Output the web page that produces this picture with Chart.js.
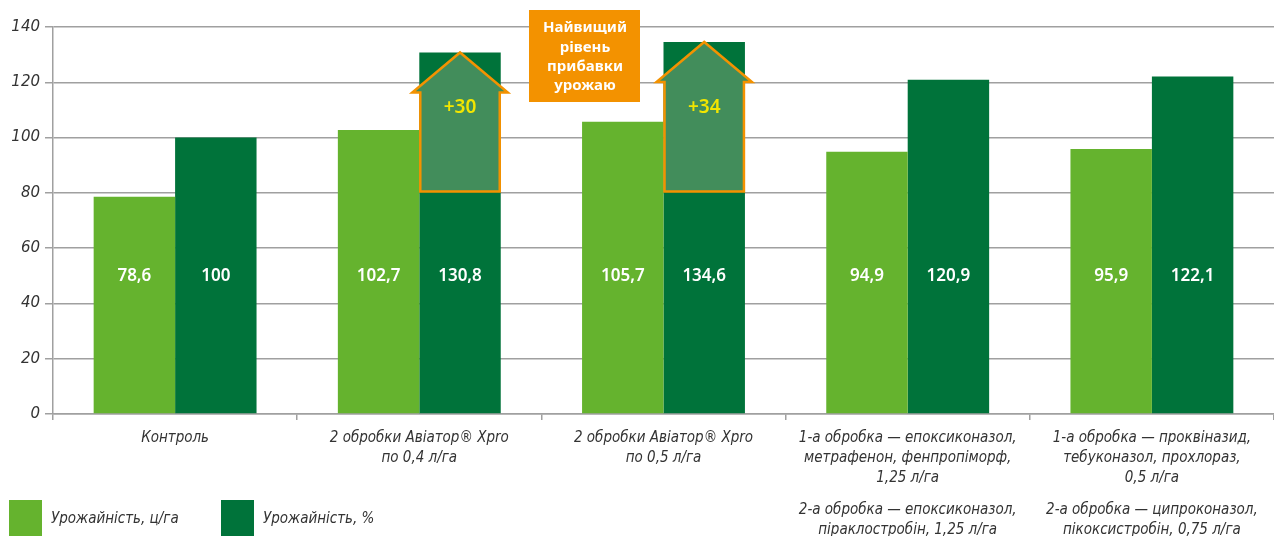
<!DOCTYPE html>
<html>
<head>
<meta charset="utf-8">
<script src="https://cdn.jsdelivr.net/npm/chart.js"></script>
<style>
  html, body { margin: 0; padding: 0; background: #fff; }
  #wrap { position: relative; width: 1274px; height: 536px; }
</style>
</head>
<body>
<div id="wrap"><canvas id="chart" width="1274" height="536"></canvas></div>
<script>
// data
const categories = [
  'Контроль',
  ['2 обробки Авіатор® Xpro', 'по 0,4 л/га'],
  ['2 обробки Авіатор® Xpro', 'по 0,5 л/га'],
  ['1-а обробка — епоксиконазол,', 'метрафенон, фенпропіморф,', '1,25 л/га'],
  ['1-а обробка — проквіназид,', 'тебуконазол, прохлораз,', '0,5 л/га']
];
const secondTreatment = [
  '', '', '',
  ['2-а обробка — епоксиконазол,', 'піраклостробін, 1,25 л/га'],
  ['2-а обробка — ципроконазол,', 'пікоксистробін, 0,75 л/га']
];
const seriesNames = ['Урожайність, ц/га', 'Урожайність, %'];
const yieldCwt = [78.6, 102.7, 105.7, 94.9, 95.9];
const yieldPct = [100, 130.8, 134.6, 120.9, 122.1];
const gainPct = [null, 30, 34, null, null];
const calloutLines = ['Найвищий', 'рівень', 'прибавки', 'урожаю'];

const LIGHT = '#65b32e';
const DARK = '#00733a';
const ORANGE = '#f39200';
const GRID = '#a0a0a0';
const TEXT = '#333333';
const labelFont = '"DejaVu Sans Condensed", "DejaVu Sans", sans-serif';
const boldFont = '"Noto Sans", "DejaVu Sans", sans-serif';

function fmt(v) {
  return String(v).replace('.', ',');
}

// white numbers in the middle of the bars
const valueLabels = {
  id: 'valueLabels',
  afterDatasetsDraw(chart) {
    const ctx = chart.ctx;
    const y = chart.scales.y.getPixelForValue(50);
    ctx.save();
    ctx.fillStyle = '#ffffff';
    ctx.font = '600 17px ' + boldFont;
    ctx.textAlign = 'center';
    ctx.textBaseline = 'middle';
    chart.data.datasets.forEach((ds, i) => {
      chart.getDatasetMeta(i).data.forEach((bar, j) => {
        ctx.fillText(fmt(ds.data[j]), bar.x, y);
      });
    });
    ctx.restore();
  }
};

// arrows on top of the Aviator bars
const gainArrows = {
  id: 'gainArrows',
  afterDatasetsDraw(chart) {
    const ctx = chart.ctx;
    const yScale = chart.scales.y;
    const meta = chart.getDatasetMeta(1);
    ctx.save();
    gainPct.forEach((g, i) => {
      if (g === null) return;
      const bar = meta.data[i];
      const l = bar.x - bar.width / 2 + 1;
      const r = bar.x + bar.width / 2 - 1;
      const tip = bar.y;
      const sh = tip + 40;
      const bottom = yScale.getPixelForValue(80.5);
      ctx.beginPath();
      ctx.moveTo(l, bottom);
      ctx.lineTo(l, sh);
      ctx.lineTo(l - 8, sh);
      ctx.lineTo(bar.x, tip);
      ctx.lineTo(r + 8, sh);
      ctx.lineTo(r, sh);
      ctx.lineTo(r, bottom);
      ctx.closePath();
      ctx.fillStyle = '#428d5b';
      ctx.fill();
      ctx.lineWidth = 2.5;
      ctx.lineJoin = 'miter';
      ctx.strokeStyle = ORANGE;
      ctx.stroke();

      ctx.fillStyle = '#f2e600';
      ctx.font = '600 19px ' + boldFont;
      ctx.textAlign = 'center';
      ctx.textBaseline = 'middle';
      ctx.fillText('+' + g, bar.x, yScale.getPixelForValue(111));
    });
    ctx.restore();
  }
};

// orange note box + legend at the bottom
const extras = {
  id: 'extras',
  afterDraw(chart) {
    const ctx = chart.ctx;
    ctx.save();
    ctx.fillStyle = ORANGE;
    ctx.fillRect(529, 10, 111, 92);
    ctx.fillStyle = '#ffffff';
    ctx.font = 'bold 15px ' + boldFont;
    ctx.textAlign = 'center';
    ctx.textBaseline = 'middle';
    calloutLines.forEach((t, i) => ctx.fillText(t, 585, 28 + i * 19.3));

    const lx = [9, 221];
    ctx.textAlign = 'left';
    ctx.font = 'italic 15px ' + labelFont;
    chart.data.datasets.forEach((ds, i) => {
      ctx.fillStyle = ds.backgroundColor;
      ctx.fillRect(lx[i], 500, 33, 36);
      ctx.fillStyle = TEXT;
      ctx.fillText(ds.label, lx[i] + 42, 519);
    });
    ctx.restore();
  }
};

new Chart(document.getElementById('chart'), {
  type: 'bar',
  data: {
    labels: categories,
    datasets: [
      { label: seriesNames[0], data: yieldCwt, backgroundColor: LIGHT },
      { label: seriesNames[1], data: yieldPct, backgroundColor: DARK }
    ]
  },
  options: {
    responsive: false,
    animation: false,
    devicePixelRatio: 1,
    layout: { padding: { top: 27, left: 0, right: 0, bottom: 0 } },
    datasets: {
      bar: { categoryPercentage: 0.667, barPercentage: 1.0, borderWidth: 0 }
    },
    scales: {
      x: {
        offset: true,
        grid: { drawOnChartArea: false, tickLength: 6, color: GRID, lineWidth: 1.5, offset: true },
        border: { color: GRID, width: 1.5 },
        ticks: {
          autoSkip: false, maxRotation: 0, padding: 8, color: TEXT,
          font: { family: labelFont, size: 15, style: 'italic', lineHeight: '20px' }
        },
        afterFit(scale) { scale.height = 86; }
      },
      x2: {
        type: 'category',
        position: 'bottom',
        labels: secondTreatment,
        offset: true,
        grid: { display: false, drawTicks: false },
        border: { display: false },
        ticks: {
          autoSkip: false, maxRotation: 0, padding: 0, color: TEXT,
          font: { family: labelFont, size: 15, style: 'italic', lineHeight: '20px' }
        },
        afterFit(scale) { scale.height = 36; }
      },
      y: {
        min: 0,
        max: 140,
        ticks: {
          stepSize: 20, padding: 5, color: TEXT,
          font: { family: '"DejaVu Sans", sans-serif', size: 15, style: 'italic' }
        },
        grid: { color: GRID, lineWidth: 1.5, tickLength: 8 },
        border: { color: GRID, width: 1.5 },
        afterFit(scale) { scale.width = 53; }
      }
    },
    plugins: {
      legend: { display: false },
      tooltip: { enabled: false }
    }
  },
  plugins: [gainArrows, valueLabels, extras]
});
</script>
</body>
</html>
